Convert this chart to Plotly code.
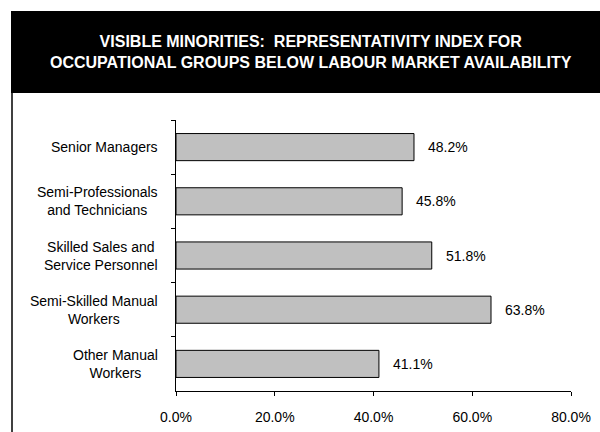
import plotly.graph_objects as go

# Occupational groups and their representativity index (%)
categories = [
    "Senior Managers",
    "Semi-Professionals<br>and Technicians",
    "Skilled Sales and<br>Service Personnel",
    "Semi-Skilled Manual<br>Workers",
    "Other Manual<br>Workers",
]
values = [48.2, 45.8, 51.8, 63.8, 41.1]
x_ticks = [0, 20, 40, 60, 80]
x_tick_labels = [f"{t:.1f}%" for t in x_ticks]

title_lines = [
    "VISIBLE MINORITIES:\u00a0 REPRESENTATIVITY INDEX FOR",
    "OCCUPATIONAL GROUPS BELOW LABOUR MARKET AVAILABILITY",
]

W, H = 600, 432
PLOT_L, PLOT_R, PLOT_T, PLOT_B = 176, 571, 120, 391
FONT = "Arial, Liberation Sans, sans-serif"


def xp(px):
    return (px - PLOT_L) / (PLOT_R - PLOT_L)


def yp(py):
    return (PLOT_B - py) / (PLOT_B - PLOT_T)


fig = go.Figure(
    go.Bar(
        x=values,
        y=categories,
        orientation="h",
        width=0.5,
        marker=dict(color="#C0C0C0", line=dict(color="#000000", width=1)),
        hoverinfo="skip",
    )
)

annotations = []
# category labels, lines centred, to the left of the axis
for cat in categories:
    annotations.append(dict(
        x=xp(160), xref="paper", y=cat, yref="y",
        xanchor="right", yanchor="middle", align="center",
        text=cat, showarrow=False,
        font=dict(family=FONT, size=14, color="#000000"),
    ))
# value labels beside each bar
for cat, v in zip(categories, values):
    annotations.append(dict(
        x=v, xref="x", y=cat, yref="y",
        xanchor="left", yanchor="middle", xshift=12,
        text=f"{v:.1f}%", showarrow=False,
        font=dict(family=FONT, size=14, color="#000000"),
    ))
# banner title
annotations.append(dict(
    x=xp(311), xref="paper", y=yp(52), yref="paper",
    xanchor="center", yanchor="middle", align="center",
    text="<b>" + "<br>".join(title_lines) + "</b>", showarrow=False,
    font=dict(family=FONT, size=16, color="#FFFFFF"),
))

shapes = [
    # black title banner
    dict(type="rect", xref="paper", yref="paper",
         x0=xp(11), x1=xp(601), y0=yp(93), y1=yp(11),
         fillcolor="#000000", line=dict(width=0), layer="below"),
    # left frame line
    dict(type="line", xref="paper", yref="paper",
         x0=xp(12), x1=xp(12), y0=yp(11), y1=yp(433),
         line=dict(color="#000000", width=1.5)),
]

fig.update_layout(
    width=W, height=H,
    margin=dict(l=PLOT_L, r=W - PLOT_R, t=PLOT_T, b=H - PLOT_B, pad=0,
                autoexpand=False),
    paper_bgcolor="#FFFFFF", plot_bgcolor="#FFFFFF",
    showlegend=False,
    annotations=annotations,
    shapes=shapes,
    xaxis=dict(
        range=[0, 80], tickmode="array", tickvals=x_ticks, ticktext=x_tick_labels,
        showline=True, linecolor="#000000", linewidth=1,
        ticks="outside", ticklen=4, tickcolor="#000000", tickwidth=1,
        showgrid=False, zeroline=False, ticklabelstandoff=9,
        tickfont=dict(family=FONT, size=14, color="#000000"),
        automargin=False, fixedrange=True,
    ),
    yaxis=dict(
        type="category", categoryorder="array", categoryarray=categories,
        autorange="reversed",
        showline=True, linecolor="#000000", linewidth=1,
        ticks="outside", tickson="boundaries", ticklen=4,
        tickcolor="#000000", tickwidth=1,
        showticklabels=False, showgrid=False, zeroline=False,
        automargin=False, fixedrange=True,
    ),
)

fig.write_html("out.html", config=dict(displayModeBar=False))
